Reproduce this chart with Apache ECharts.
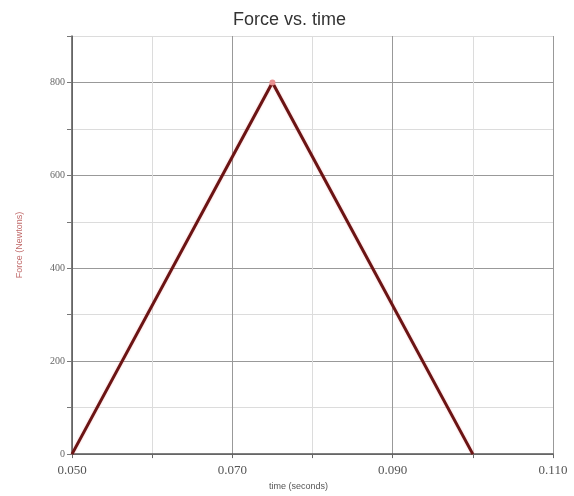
<!DOCTYPE html>
<html>
<head>
<meta charset="utf-8">
<script src="https://cdn.jsdelivr.net/npm/echarts@6/dist/echarts.min.js"></script>
<style>html,body{margin:0;padding:0;background:#fff}#c{width:574px;height:496px}</style>
</head>
<body>
<div id="c"></div>
<script>
var times = [0.05, 0.075, 0.1];
var forces = [0, 800, 0];
var xLabels = ['0.050', '0.070', '0.090', '0.110'];
var yLabels = ['0', '200', '400', '600', '800'];

var chart = echarts.init(document.getElementById('c'));
chart.setOption({
  animation: false,
  backgroundColor: '#fff',
  title: {
    text: 'Force vs. time',
    left: 228, top: 6,
    textStyle: {fontFamily: 'Liberation Sans', fontSize: 18, fontWeight: 'normal', color: '#333'}
  },
  grid: {left: 72, right: 21, top: 36, bottom: 39},
  xAxis: {
    type: 'value', min: 0.05, max: 0.11, interval: 0.01,
    name: 'time (seconds)', nameLocation: 'middle', nameGap: 26,
    nameTextStyle: {fontFamily: 'Liberation Sans', fontSize: 9, color: '#555', padding: [0, 28, 0, 0]},
    axisLine: {lineStyle: {color: '#555', width: 1.5}},
    axisTick: {show: true, inside: false, length: 4, lineStyle: {color: '#666'}},
    axisLabel: {
      fontFamily: 'Liberation Serif', fontSize: 13, color: '#555', margin: 10,
      formatter: function (v) { var s = v.toFixed(3); return xLabels.indexOf(s) >= 0 ? s : ''; }
    },
    splitLine: {show: true, lineStyle: {color: ['#999', '#dcdcdc'], width: 1}}
  },
  yAxis: {
    type: 'value', min: 0, max: 900, interval: 100,
    name: 'Force (Newtons)', nameLocation: 'middle', nameGap: 48,
    nameTextStyle: {fontFamily: 'Liberation Sans', fontSize: 9, color: '#c06a6a'},
    axisLine: {show: true, lineStyle: {color: '#555', width: 1.5}},
    axisTick: {show: true, length: 5, lineStyle: {color: '#777'}},
    axisLabel: {
      fontFamily: 'Liberation Serif', fontSize: 10, color: '#666', margin: 7,
      formatter: function (v) { var s = String(v); return yLabels.indexOf(s) >= 0 ? s : ''; }
    },
    splitLine: {show: true, lineStyle: {color: ['#999', '#dcdcdc'], width: 1}}
  },
  series: [{
    type: 'line',
    data: times.map(function (t, i) { return [t, forces[i]]; }),
    lineStyle: {color: '#6b1414', width: 3, shadowColor: 'rgba(220,60,60,0.35)', shadowBlur: 2},
    symbol: 'circle',
    symbolSize: function (v) { return v[1] === Math.max.apply(null, forces) ? 6 : 0; },
    itemStyle: {color: '#e89090'},
    z: 3
  }]
});
</script>
</body>
</html>
